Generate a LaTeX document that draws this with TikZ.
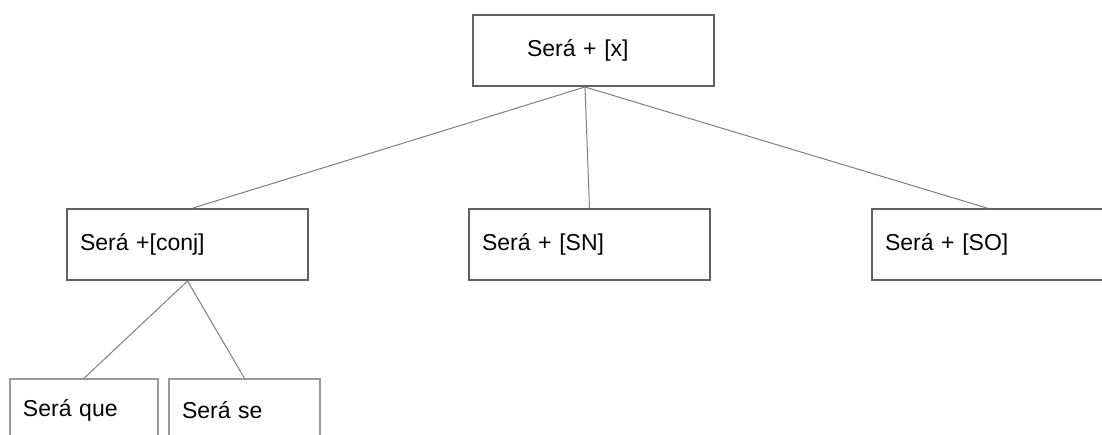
\documentclass[tikz,border=0pt]{standalone}
\usepackage{fontspec}
\setmainfont{Liberation Sans}
\begin{document}
\begin{tikzpicture}[x=0.5pt,y=-0.5pt,
	box/.style={draw=black!62,line width=1pt,minimum height=35.5pt,inner xsep=6.5pt,text width=107.5pt,align=left,font=\fontsize{11.5}{13}\selectfont},
	leaf/.style={box,draw=black!40,line width=0.7pt,minimum height=31pt,text width=61pt},
	edge/.style={draw=black!50,line width=0.5pt}]
		\useasboundingbox (0,0) rectangle (1102,434);
		\clip (0,0) rectangle (1102,434);
		\fill[white] (0,0) rectangle (1102,434);
		\node [box,inner xsep=27pt,text width=66.5pt] (0) at (593.5,50.5) {Será + [x]};
		\node [box] (1) at (187.5,244.5) {Será +[conj]};
		\node [box] (2) at (589.5,244.5) {Será + [SN]};
		\node [box,text width=140pt] (3) at (1025,244.5) {Será + [SO]};
		\node [leaf,text width=61pt] (4) at (84,410) {Será que};
		\node [leaf,text width=62.5pt] (5) at (244.5,410) {Será se};
		\draw [edge] ([xshift=-4.25pt]0.south) -- ([xshift=2.75pt]1.north);
		\draw [edge] ([xshift=-4.25pt]0.south) -- (2.north);
		\draw [edge] ([xshift=-4.25pt]0.south) -- ([xshift=-19pt]3.north);
		\draw [edge] (1.south) -- (4.north);
		\draw [edge] (1.south) -- (5.north);
	\end{tikzpicture}
\end{document}
